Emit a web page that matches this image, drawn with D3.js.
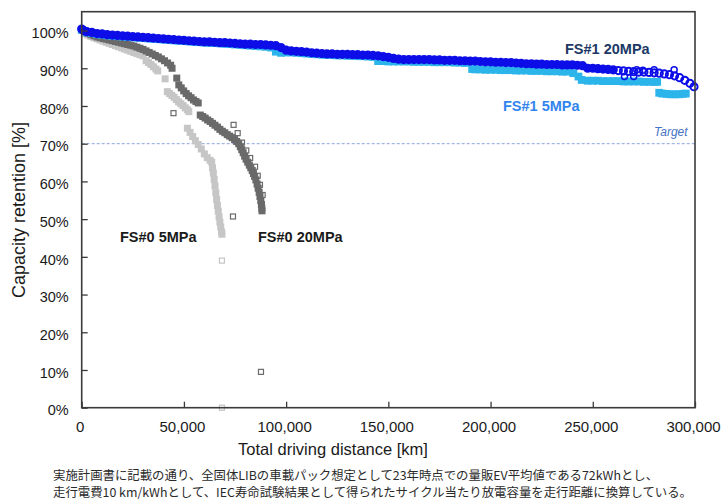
<!DOCTYPE html>
<html>
<head>
<meta charset="utf-8">
<script src="https://cdn.jsdelivr.net/npm/d3@7"></script>
<style>
  html, body { margin: 0; padding: 0; background: #fff; }
  svg { display: block; }
</style>
</head>
<body>
<svg id="chart" width="723" height="501"></svg>
<script>
// ---- Capacity retention vs. total driving distance, four cells ----
// each point: [distance km, retention %]

// FS#1 cell, 20 MPa stack pressure
const fs1_20 = [
  [0,100.4],[1000,100.0],[2500,99.7],[5000,99.5],[7500,99.2],[10000,99.1],[12500,98.9],[15000,98.8],
  [17500,98.7],[20000,98.6],[22500,98.5],[25000,98.4],[27500,98.3],[30000,98.2],[32500,98.1],[35000,98.0],
  [37500,97.9],[40000,97.8],[42500,97.7],[45000,97.6],[47500,97.5],[50000,97.4],[52500,97.3],[55000,97.2],
  [57500,97.1],[60000,97.0],[62500,97.0],[65000,96.9],[67500,96.8],[70000,96.8],[72500,96.7],[75000,96.6],
  [77500,96.5],[80000,96.4],[82500,96.4],[85000,96.3],[87500,96.3],[90000,96.2],[92500,96.1],[95000,96.0],
  [97500,95.5],[100000,94.8],[102500,94.6],[105000,94.5],[107500,94.4],[110000,94.3],[112500,94.1],[115000,94.0],
  [117500,93.9],[120000,93.8],[122500,93.8],[125000,93.7],[127500,93.7],[130000,93.7],[132500,93.6],[135000,93.6],
  [137500,93.5],[140000,93.5],[142500,93.4],[145000,93.3],[147500,93.1],[150000,92.9],[152500,92.6],[155000,92.4],
  [157500,92.3],[160000,92.3],[162500,92.3],[165000,92.3],[167500,92.3],[170000,92.3],[172500,92.2],[175000,92.2],
  [177500,92.1],[180000,92.1],[182500,92.1],[185000,92.0],[187500,92.0],[190000,91.9],[192500,91.9],[195000,91.8],
  [197500,91.7],[200000,91.7],[202500,91.6],[205000,91.6],[207500,91.5],[210000,91.5],[212500,91.4],[215000,91.3],
  [217500,91.2],[220000,91.2],[222500,91.1],[225000,91.1],[227500,91.0],[230000,91.0],[232500,91.0],[235000,90.9],
  [237500,90.9],[240000,90.9],[242500,90.8],[245000,90.7],[247500,90.0],[250000,90.0],[252500,89.9],[255000,89.8],
  [257500,89.7],[260000,89.6],[262500,89.4],[265000,89.3],[267500,89.2],[270000,89.1],[272500,89.0],[275000,89.0],
  [277500,88.9],[280000,88.8],[282500,88.7],[285000,88.5],[287500,88.3],[290000,88.0],[292500,87.5],[295000,86.8],
  [297500,86.0],[299500,85.1]
];
const fs1_20_scatter = [
  [265500,87.8],[270000,87.8],[271500,89.6],[274500,89.5],[280000,89.6],[289800,89.6]
];

// FS#1 cell, 5 MPa stack pressure
const fs1_5 = [
  [0,100.2],[2500,99.5],[5000,99.3],[7500,99.0],[10000,98.9],[12500,98.7],[15000,98.6],[17500,98.5],
  [20000,98.4],[22500,98.3],[25000,98.2],[27500,98.1],[30000,98.0],[32500,97.9],[35000,97.8],[37500,97.7],
  [40000,97.6],[42500,97.5],[45000,97.4],[47500,97.3],[50000,97.2],[52500,97.1],[55000,97.0],[57500,96.9],
  [60000,96.8],[62500,96.7],[65000,96.7],[67500,96.6],[70000,96.5],[72500,96.4],[75000,96.3],[77500,96.2],
  [80000,96.1],[82500,96.0],[85000,95.9],[87500,95.8],[90000,95.7],[92500,95.5],[95000,94.4],[97500,94.1],
  [100000,94.2],[102500,94.2],[105000,94.1],[107500,94.0],[110000,93.9],[112500,93.8],[115000,93.7],[117500,93.6],
  [120000,93.5],[122500,93.5],[125000,93.4],[127500,93.4],[130000,93.3],[132500,93.3],[135000,93.2],[137500,93.2],
  [140000,93.1],[142500,93.0],[145000,91.9],[147500,91.9],[150000,91.8],[152500,91.8],[155000,91.8],[157500,91.8],
  [160000,91.8],[162500,91.7],[165000,91.7],[167500,91.7],[170000,91.7],[172500,91.6],[175000,91.6],[177500,91.6],
  [180000,91.6],[182500,91.5],[185000,91.5],[187500,91.4],[191000,89.8],[192500,89.7],[195000,89.7],[197500,89.6],
  [200000,89.6],[202500,89.6],[205000,89.5],[207500,89.5],[210000,89.5],[212500,89.4],[215000,89.4],[217500,89.4],
  [220000,89.3],[222500,89.3],[225000,89.3],[227500,89.2],[230000,89.2],[232500,89.2],[235000,89.1],[237500,89.1],
  [240500,88.7],[243000,87.8],[244600,86.9],[247500,86.7],[250000,86.7],[252500,86.7],[255000,86.6],[257500,86.6],
  [260000,86.6],[262500,86.6],[265000,86.5],[267500,86.5],[270000,86.5],[272500,86.5],[275000,86.4],[277500,86.4],
  [280000,86.4],[281500,86.4],[282500,83.5],[284000,83.3],[286000,83.2],[288000,83.1],[290000,83.1],[292000,83.1],
  [294000,83.2],[295500,83.3]
];

// FS#0 cell, 20 MPa stack pressure
const fs0_20 = [
  [0,100.2],[1500,99.7],[3000,99.3],[4500,98.9],[6000,98.6],[7500,98.3],[9000,98.1],[10500,97.9],
  [12000,97.7],[13500,97.5],[15000,97.3],[16500,97.1],[18000,96.9],[19500,96.7],[21000,96.5],[22500,96.3],
  [24000,96.1],[25500,95.9],[27000,95.6],[28500,95.3],[30000,95.0],[31500,94.6],[33000,94.2],[34500,93.8],
  [36000,93.4],[37500,93.0],[39000,92.5],[40500,92.0],[42000,91.4],[43500,90.8],[44200,90.0],
  [46500,87.4],[47500,85.6],[48700,84.8],[49900,84.0],[51100,83.3],[52300,82.7],[53500,82.2],[54700,81.6],
  [55900,81.2],[57000,80.8],
  [58000,77.6],[59200,77.2],[60400,76.8],[61600,76.3],[62800,75.9],[64000,75.4],[65200,74.9],[66400,74.4],
  [67600,73.8],[68800,73.3],[70000,72.9],[71200,72.4],[72400,72.0],[73600,71.6],[74800,71.1],[75800,70.6],
  [76800,70.0],[77600,69.2],[78300,68.4],[79000,67.6],[79700,66.7],[80400,65.9],[81200,65.1],[82000,64.3],
  [82700,63.6],[83400,62.9],[84000,62.1],[84600,61.3],[85200,60.4],[85800,59.3],[86300,58.2],[86800,57.1],
  [87200,56.0],[87600,54.9],[87900,53.9],[88100,52.9],[88200,52.2]
];
const fs0_20_scatter = [
  [44900,78.1],[74300,75.0],[76300,72.8],[78400,70.3],[80500,68.2],[82400,66.2],[84800,63.9],
  [86100,61.5],[87200,59.1],[88500,56.4],[88100,53.8],[74000,50.7],[87700,9.5]
];

// FS#0 cell, 5 MPa stack pressure
const fs0_5 = [
  [0,100.0],[1500,99.2],[3000,98.8],[4500,98.4],[6000,98.1],[7500,97.8],[9000,97.5],[10500,97.2],
  [12000,96.9],[13500,96.6],[15000,96.3],[16500,96.0],[18000,95.7],[19500,95.4],[21000,95.1],[22500,94.8],
  [24000,94.5],[25500,94.2],[27000,93.9],[28500,93.6],[30000,93.3],
  [31500,92.0],[32700,91.5],[33900,91.0],[35100,90.4],[36300,89.8],[37200,89.3],
  [40800,87.2],
  [41900,83.8],[43000,83.3],[44100,82.8],[45200,82.3],[46300,81.7],[47400,81.1],[48500,80.6],[49600,80.1],
  [50700,79.5],[51700,79.0],[52400,78.5],
  [51700,74.1],[53000,73.0],[54300,71.9],[55600,70.8],[57000,69.8],[58500,68.6],[60000,67.3],[61400,66.3],
  [62800,65.6],[63600,65.1],[64000,63.6],[64400,62.2],[64800,60.5],[65200,58.8],[65600,57.0],[66000,55.2],
  [66400,53.6],[66800,52.1],[67200,50.6],[67600,49.2],[68000,47.9],[68400,46.6],[68600,46.0]
];
const fs0_5_scatter = [[68600,39.0],[68600,0.0]];

// axes
const xTicks = [0, 50000, 100000, 150000, 200000, 250000, 300000];
const yTicks = [0, 10, 20, 30, 40, 50, 60, 70, 80, 90, 100];
const targetRetention = 70;

const xTitle = "Total driving distance [km]";
const yTitle = "Capacity retention [%]";
const noteLines = [
  "実施計画書に記載の通り、全固体LIBの車載パック想定として23年時点での量販EV平均値である72kWhとし、",
  "走行電費10 km/kWhとして、IEC寿命試験結果として得られたサイクル当たり放電容量を走行距離に換算している。"
];

// ---- drawing ----
const svg = d3.select("#chart");
const plot = { left: 81.7, right: 695, top: 11.7, bottom: 407.7 };

const x = d3.scaleLinear().domain([0, 300000]).range([plot.left, plot.right]);
const y = d3.scaleLinear().domain([0, 105]).range([plot.bottom, plot.top]);

const AXIS_FONT = "'Liberation Sans', Arial, sans-serif";

// target line
svg.append("line")
  .attr("x1", plot.left).attr("x2", plot.right)
  .attr("y1", y(targetRetention)).attr("y2", y(targetRetention))
  .attr("stroke", "#8aa6dc").attr("stroke-width", 1)
  .attr("stroke-dasharray", "3,2");

// dense runs of markers read as a solid band; isolated points stay hollow
function squares(data, color, size, sw, filled) {
  svg.append("g").selectAll("rect").data(data).join("rect")
    .attr("x", d => x(d[0]) - size / 2)
    .attr("y", d => y(d[1]) - size / 2)
    .attr("width", size).attr("height", size)
    .attr("fill", filled ? color : "none")
    .attr("stroke", color).attr("stroke-width", sw);
}
function circles(data, color, r, sw, fillBefore) {
  svg.append("g").selectAll("circle").data(data).join("circle")
    .attr("cx", d => x(d[0])).attr("cy", d => y(d[1])).attr("r", r)
    .attr("fill", d => d[0] < fillBefore ? color : "none")
    .attr("stroke", color).attr("stroke-width", sw);
}

squares(fs0_5, "#c6c6c6", 5.5, 1.5, true);
squares(fs0_5_scatter, "#c4c4c4", 5, 1.2, false);
squares(fs0_20, "#6a6a6a", 5.5, 1.5, true);
squares(fs0_20_scatter, "#6a6a6a", 5, 1.2, false);
squares(fs1_5, "#2cb5ea", 6, 1.8, true);
circles(fs1_20, "#0d0de8", 3.6, 2, 262000);
circles(fs1_20_scatter, "#0d0de8", 3, 1.5, 0);

// axes with inward ticks
const xAxis = svg.append("g")
  .attr("transform", `translate(0,${plot.bottom})`)
  .call(d3.axisBottom(x).tickValues(xTicks).tickSize(-6).tickSizeOuter(0)
        .tickPadding(14).tickFormat(d3.format(",")));
const yAxis = svg.append("g")
  .attr("transform", `translate(${plot.left},0)`)
  .call(d3.axisLeft(y).tickValues(yTicks).tickSize(-6).tickSizeOuter(0)
        .tickPadding(13).tickFormat(d => d + "%"));

[xAxis, yAxis].forEach(g => {
  g.select(".domain").remove();
  g.selectAll(".tick line").attr("stroke", "#3a3a3a").attr("stroke-width", 1.3);
  g.selectAll(".tick text").attr("fill", "#1a1a1a")
    .style("font-family", AXIS_FONT);
});
xAxis.selectAll(".tick text").style("font-size", "15px").attr("dx", -2);
yAxis.selectAll(".tick text").style("font-size", "14.5px").attr("dy", "0.5em");

// plot frame
svg.append("rect")
  .attr("x", plot.left).attr("y", plot.top)
  .attr("width", plot.right - plot.left).attr("height", plot.bottom - plot.top)
  .attr("fill", "none").attr("stroke", "#3a3a3a").attr("stroke-width", 1.6);

// axis titles
svg.append("text")
  .attr("x", 333).attr("y", 455)
  .attr("text-anchor", "middle")
  .style("font-family", AXIS_FONT).style("font-size", "16.5px").attr("fill", "#1a1a1a")
  .text(xTitle);
svg.append("text")
  .attr("transform", "translate(25,210) rotate(-90)")
  .attr("text-anchor", "middle")
  .style("font-family", AXIS_FONT).style("font-size", "18px").attr("fill", "#1a1a1a")
  .text(yTitle);

// series labels
const labels = [
  { t: "FS#1 20MPa", x: 565, y: 54, c: "#203864" },
  { t: "FS#1 5MPa", x: 503, y: 111, c: "#3385ee" },
  { t: "FS#0 5MPa", x: 120, y: 242, c: "#1a1a1a" },
  { t: "FS#0 20MPa", x: 258, y: 242, c: "#1a1a1a" }
];
svg.append("g").selectAll("text").data(labels).join("text")
  .attr("x", d => d.x).attr("y", d => d.y)
  .attr("fill", d => d.c)
  .style("font-family", AXIS_FONT).style("font-size", "14.5px").style("font-weight", "bold")
  .text(d => d.t);

svg.append("text")
  .attr("x", 654).attr("y", 136)
  .attr("fill", "#4472c4")
  .style("font-family", AXIS_FONT).style("font-size", "12px").style("font-style", "italic")
  .text("Target");

// footnote
svg.append("g").selectAll("text").data(noteLines).join("text")
  .attr("x", 53).attr("y", (d, i) => 480 + i * 17)
  .attr("fill", "#2a2a2a")
  .style("font-family", "'Noto Sans CJK JP', sans-serif").style("font-size", "12.4px")
  .text(d => d);
</script>
</body>
</html>
